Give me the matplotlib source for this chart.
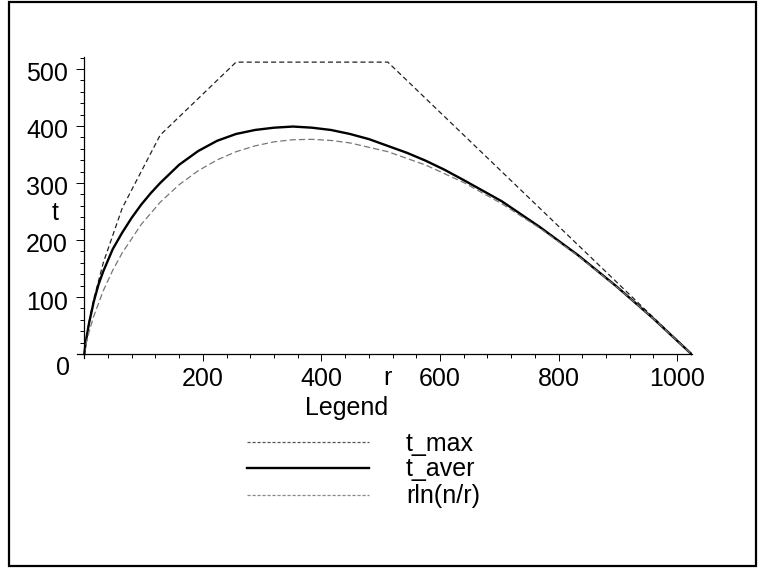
import matplotlib
matplotlib.use("Agg")
import matplotlib.pyplot as plt
import matplotlib.transforms as mtransforms
from matplotlib.patches import Rectangle
from matplotlib.ticker import MultipleLocator, FixedLocator

plt.rcParams['font.family'] = ['Liberation Sans', 'DejaVu Sans']

# ---- data ----
r_max = [0, 1, 2, 4, 8, 16, 32, 64, 128, 256, 512, 1024]
t_max = [0, 10, 18, 32, 56, 96, 160, 256, 384, 512, 512, 0]

r_aver = [0, 2, 4, 8, 16, 24, 32, 48, 64, 80, 96, 112, 128, 160, 192, 224, 256, 288,
          320, 352, 384, 416, 448, 480, 512, 544, 576, 608, 640, 704, 768, 832, 896, 960, 1024]
t_aver = [0, 17, 30, 54, 92, 122, 145, 184, 213, 239, 262, 282, 300, 332, 356, 374, 386, 393,
          397, 399, 397, 393, 386, 377, 365, 353, 339, 323, 305, 268, 223, 174, 120, 62, 0]

r_ln = [0, 1, 2, 4, 8, 16, 32, 48, 64, 96, 128, 160, 192, 224, 256, 288, 320, 352, 384,
        416, 448, 512, 576, 640, 704, 768, 832, 896, 960, 1024]
t_ln = [0, 6.9, 12.5, 22.2, 38.8, 66.5, 110.9, 146.9, 177.4, 227.3, 266.2, 297.0,
        321.4, 340.4, 354.9, 365.1, 372.2, 375.9, 376.6, 374.6, 370.3, 354.9, 331.4,
        300.8, 263.8, 220.9, 172.7, 119.6, 62.0, 0]

x_major = [200, 400, 600, 800, 1000]
y_major = [100, 200, 300, 400, 500]
legend_labels = ["t_max", "t_aver", "rln(n/r)"]

FS = 18

W, H = 762, 569
fig = plt.figure(figsize=(W / 100, H / 100), dpi=100)

def fx(px):
    return px / W

def fy(py):
    return 1 - py / H

# outer frame
fig.patches.append(Rectangle((fx(9), fy(566)), fx(756) - fx(9), fy(2) - fy(566),
                             transform=fig.transFigure, fill=False,
                             edgecolor='black', linewidth=1.6))

ax = fig.add_axes([fx(77), fy(358), fx(692) - fx(77), fy(57) - fy(358)])
ax.set_xlim(-12.3, 1025)
ax.set_ylim(-7, 521)

ax.plot(r_max, t_max, color='#222222', linewidth=0.9, linestyle=(0, (4, 2.5)))
ax.plot(r_aver, t_aver, color='black', linewidth=1.7)
ax.plot(r_ln, t_ln, color='#777777', linewidth=0.9, linestyle=(0, (5, 2.5)))

for s in ['top', 'right']:
    ax.spines[s].set_visible(False)
ax.spines['left'].set_position(('data', 0))
ax.spines['bottom'].set_position(('data', 0))
for s in ['left', 'bottom']:
    ax.spines[s].set_linewidth(0.9)

ax.xaxis.set_major_locator(FixedLocator(x_major))
ax.xaxis.set_minor_locator(MultipleLocator(40))
ax.yaxis.set_major_locator(FixedLocator(y_major))
ax.yaxis.set_minor_locator(MultipleLocator(20))

# x labels: baseline ~32 px below the axis
ax.tick_params(axis='x', which='major', direction='out', length=4.8, width=0.7,
               labelsize=FS, pad=18.0)
ax.tick_params(axis='x', which='minor', direction='out', length=3.1, width=0.7)
ax.tick_params(axis='y', which='major', direction='out', length=5.8, width=0.7,
               labelsize=FS, pad=6)
ax.tick_params(axis='y', which='minor', direction='out', length=2.9, width=0.7)
ax.set_xticklabels([str(v) for v in x_major], va='baseline')
ax.set_yticklabels([str(v) for v in y_major], va='baseline')
offset = mtransforms.ScaledTranslation(0, -12.5 / 100, fig.dpi_scale_trans)
for lab in ax.get_yticklabels():
    lab.set_transform(lab.get_transform() + offset)

# origin label, axis labels
fig.text(fx(63), fy(375), "0", fontsize=FS, ha='center', va='baseline')
fig.text(fx(387), fy(385), "r", fontsize=FS, ha='center', va='baseline')
fig.text(fx(55), fy(220), "t", fontsize=FS, ha='center', va='baseline')

# legend
fig.text(fx(346.5), fy(415), "Legend", fontsize=FS, ha='center', va='baseline')
ly = [442, 468, 495]
tb = [451, 476, 503]
styles = [dict(color='#555555', linewidth=0.9, linestyle=(0, (2.5, 1.5))),
          dict(color='black', linewidth=1.7, linestyle='-'),
          dict(color='#888888', linewidth=0.9, linestyle=(0, (2.5, 1.5)))]
for y, b, lab, st in zip(ly, tb, legend_labels, styles):
    fig.add_artist(plt.Line2D([fx(247), fx(369)], [fy(y), fy(y)],
                              transform=fig.transFigure, **st))
    fig.text(fx(406), fy(b), lab, fontsize=FS, ha='left', va='baseline')

fig.savefig("out.png", dpi=100)
